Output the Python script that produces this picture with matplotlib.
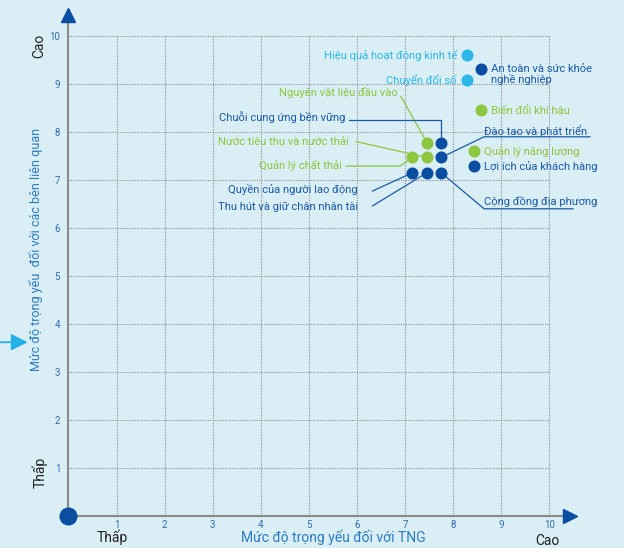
import matplotlib.pyplot as plt

plt.rcParams['font.family'] = ['Roboto', 'DejaVu Sans']

# topics: name, x (importance to TNG), y (importance to stakeholders), group
names = ['Hiệu quả hoạt động kinh tế', 'Chuyển đổi số', 'An toàn và sức khỏe\nnghề nghiệp',
         'Biến đổi khí hậu', 'Quản lý năng lượng', 'Lợi ích của khách hàng',
         'Nguyên vật liệu đầu vào', 'Chuỗi cung ứng bền vững',
         'Quản lý chất thải', 'Nước tiêu thụ và nước thải', 'Đào tạo và phát triển',
         'Quyền của người lao động', 'Thu hút và giữ chân nhân tài', 'Cộng đồng địa phương']
x_tng = [8.29, 8.29, 8.58, 8.58, 8.44, 8.44, 7.45, 7.75, 7.15, 7.45, 7.75, 7.15, 7.45, 7.75]
y_stk = [9.60, 9.08, 9.31, 8.46, 7.60, 7.29, 7.78, 7.78, 7.47, 7.47, 7.47, 7.15, 7.15, 7.15]
groups = ['econ', 'econ', 'social', 'env', 'env', 'social', 'env', 'social',
          'env', 'env', 'social', 'social', 'social', 'social']
ticks = [1, 2, 3, 4, 5, 6, 7, 8, 9, 10]

bg = '#d9eef5'
dot_col = {'econ': '#2bb7ea', 'env': '#8dc63f', 'social': '#0a4ea2'}
txt_col = {'econ': '#2bb7ea', 'env': '#8dc63f', 'social': '#1b5aa8'}

# label anchors (x, y, ha) and leader line paths (None = no leader)
label_pos = [(8.08, 9.60, 'right'), (8.06, 9.08, 'right'), (8.78, 9.20, 'left'),
             (8.78, 8.46, 'left'), (8.63, 7.60, 'left'), (8.64, 7.29, 'left'),
             (6.85, 8.83, 'right'), (5.76, 8.31, 'right'),
             (5.68, 7.31, 'right'), (5.82, 7.79, 'right'), (8.64, 8.03, 'left'),
             (6.01, 6.81, 'right'), (6.03, 6.44, 'right'), (8.64, 6.55, 'left')]
leaders = [None, None, None, None, None, None,
           [(6.91, 8.74)],
           [(5.83, 8.25), (7.75, 8.25)],
           [(5.77, 7.29), (6.89, 7.29)],
           [(5.98, 7.80)],
           [(10.84, 7.90), (8.64, 7.90)],
           [(6.32, 6.77)],
           [(6.32, 6.46)],
           [(10.49, 6.40), (8.64, 6.40)]]

fig = plt.figure(figsize=(6.24, 5.48), dpi=100, facecolor=bg)
ax = fig.add_axes([0, 0, 1, 1], facecolor=bg)
ax.set_xlim(-1.424, 11.549)
ax.set_ylim(-0.667, 10.75)

# dotted grid
ax.vlines(ticks, 0, 10, colors='#8f8f8f', linestyles=(0, (1, 1.2)), linewidth=0.8, zorder=1)
ax.hlines(ticks, 0, 10, colors='#8f8f8f', linestyles=(0, (1, 1.2)), linewidth=0.8, zorder=1)

# axes through origin
for s in ['top', 'right']:
    ax.spines[s].set_visible(False)
ax.spines['left'].set_position(('data', 0))
ax.spines['bottom'].set_position(('data', 0))
ax.spines['left'].set_bounds(0, 10.4)
ax.spines['bottom'].set_bounds(0, 10.4)
for s in ['left', 'bottom']:
    ax.spines[s].set_color('#8a8a8a')
    ax.spines[s].set_linewidth(1.5)
    ax.spines[s].set_zorder(2)
ax.set_xticks(ticks)
ax.set_yticks(ticks)
ax.tick_params(length=0, labelsize=7, labelcolor='#2e6db5')
ax.tick_params(axis='x', pad=3)
ax.tick_params(axis='y', pad=6)

ax.plot([0], [10.43], marker='^', markersize=10, color='#0a4ea2', clip_on=False, zorder=3)
ax.plot([10.43], [0], marker='>', markersize=10, color='#0a4ea2', clip_on=False, zorder=3)
ax.plot([0], [0], marker='o', markersize=12, color='#0a4ea2', clip_on=False, zorder=4)

# leader lines
for i, path in enumerate(leaders):
    if path is None:
        continue
    xs = [p[0] for p in path] + [x_tng[i]]
    ys = [p[1] for p in path] + [y_stk[i]]
    ax.plot(xs, ys, color=txt_col[groups[i]], linewidth=0.9, zorder=2)

# points
for g in ['econ', 'env', 'social']:
    xs = [x for x, gg in zip(x_tng, groups) if gg == g]
    ys = [y for y, gg in zip(y_stk, groups) if gg == g]
    ax.scatter(xs, ys, s=75, color=dot_col[g], zorder=5, linewidths=0)

# labels
for i, name in enumerate(names):
    lx, ly, ha = label_pos[i]
    ax.text(lx, ly, name, ha=ha, va='center', fontsize=8.1, color=txt_col[groups[i]],
            linespacing=1.0, zorder=6)

# axis titles
ax.text(5.5, -0.45, 'Mức độ trọng yếu đối với TNG', ha='center', va='center',
        fontsize=10, color='#2c7bc4')
ax.text(-0.68, 5.55, 'Mức độ trọng yếu  đối với các bên liên quan', ha='center', va='center',
        rotation=90, fontsize=9, color='#2c7bc4')
ax.text(-0.6, 9.8, 'Cao', ha='center', va='center', rotation=90, fontsize=10, color='#222222')
ax.text(-0.6, 0.9, 'Thấp', ha='center', va='center', rotation=90, fontsize=10, color='#222222')
ax.text(0.9, -0.45, 'Thấp', ha='center', va='center', fontsize=10, color='#222222')
ax.text(9.95, -0.52, 'Cao', ha='center', va='center', fontsize=10, color='#222222')

# pointer arrow on the left
ax.annotate('', xy=(-0.85, 3.62), xytext=(-1.43, 3.62),
            arrowprops=dict(arrowstyle='-|>,head_length=1.0,head_width=0.5',
                            mutation_scale=10, shrinkA=0, shrinkB=0,
                            color='#22b0e8', lw=1.3), annotation_clip=False)

fig.savefig('out.png', dpi=100, facecolor=bg)
